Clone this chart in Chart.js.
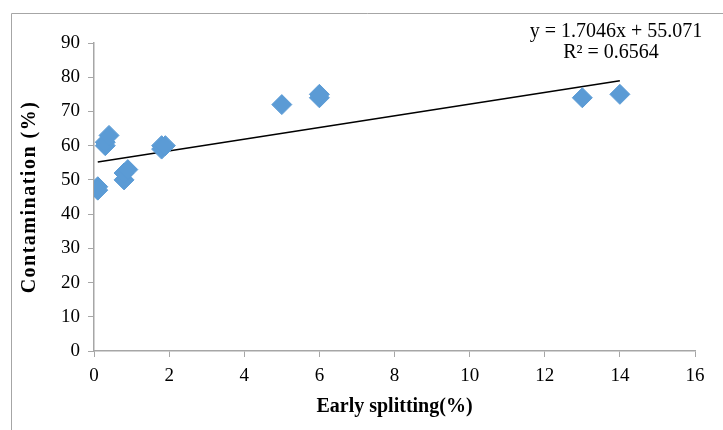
<!DOCTYPE html>
<html>
<head>
<meta charset="utf-8">
<script src="https://cdn.jsdelivr.net/npm/chart.js@4"></script>
<style>
  html, body { margin: 0; padding: 0; background: #fff; }
  #wrap { width: 723px; height: 430px; }
</style>
</head>
<body>
<div id="wrap"><canvas id="scatterChart" width="723" height="430"></canvas></div>
<script>
const splitting = [0.1, 0.1, 0.3, 0.3, 0.4, 0.8, 0.8, 0.9, 1.8, 1.8, 1.9, 5, 6, 6, 13, 14];
const contamination = [48, 47, 60, 61, 63, 50, 52, 53, 59, 60, 60, 72, 74, 75, 74, 75];
const slope = 1.7046;
const intercept = 55.071;
const equationLines = ['y = 1.7046x + 55.071', 'R\u00b2 = 0.6564'];
const yTitle = 'Contamination (%)';

const points = splitting.map((x, i) => ({ x: x, y: contamination[i] }));
const xMin = Math.min(...splitting);
const xMax = Math.max(...splitting);
const trend = [xMin, xMax].map(x => ({ x: x, y: slope * x + intercept }));

const serif = 'Liberation Serif';

// excel-ish outer frame, spaced y title, equation text
const extras = {
  id: 'extras',
  afterDraw(chart) {
    const ctx = chart.ctx;
    const area = chart.chartArea;
    ctx.save();
    ctx.strokeStyle = '#a6a6a6';
    ctx.lineWidth = 1;
    ctx.beginPath();
    ctx.moveTo(11.5, 430);
    ctx.lineTo(11.5, 13.5);
    ctx.lineTo(723, 13.5);
    ctx.stroke();

    ctx.fillStyle = '#000';
    ctx.textAlign = 'center';
    ctx.textBaseline = 'middle';

    ctx.save();
    ctx.translate(30, 197);
    ctx.rotate(-Math.PI / 2);
    ctx.font = 'bold 20px "' + serif + '"';
    ctx.letterSpacing = '1.5px';
    ctx.fillText(yTitle, 0, 0);
    ctx.restore();

    ctx.font = '20px "' + serif + '"';
    ctx.fillText(equationLines[0], 616, 32);
    ctx.fillText(equationLines[1], 611, 53);
    ctx.restore();
  }
};

new Chart(document.getElementById('scatterChart'), {
  type: 'scatter',
  data: {
    datasets: [
      {
        label: 'Contamination',
        data: points,
        pointStyle: 'rectRot',
        pointRadius: 10,
        pointHoverRadius: 10,
        backgroundColor: '#5b9bd5',
        borderColor: '#5b9bd5',
        borderWidth: 1
      },
      {
        type: 'line',
        label: 'Linear',
        data: trend,
        borderColor: '#000',
        borderWidth: 1.5,
        pointRadius: 0,
        fill: false
      }
    ]
  },
  options: {
    responsive: false,
    animation: false,
    layout: { padding: { left: 0, top: 43, right: 28, bottom: 0 } },
    plugins: {
      legend: { display: false },
      tooltip: { enabled: false }
    },
    scales: {
      x: {
        type: 'linear',
        min: 0,
        max: 16,
        ticks: { stepSize: 2, color: '#000', padding: 8, font: { family: serif, size: 19 } },
        grid: { drawOnChartArea: false, tickLength: 6, color: '#a6a6a6' },
        border: { color: '#a6a6a6', width: 1.5 },
        title: {
          display: true,
          text: 'Early splitting(%)',
          color: '#000',
          font: { family: serif, size: 20, weight: 'bold' },
          padding: { top: 0, bottom: 11 }
        },
        afterFit(scale) { scale.height = 79; }
      },
      y: {
        min: 0,
        max: 90,
        ticks: { stepSize: 10, color: '#000', padding: 8, font: { family: serif, size: 19 } },
        grid: { drawOnChartArea: false, tickLength: 6, color: '#a6a6a6' },
        border: { color: '#a6a6a6', width: 1.5 },
        afterFit(scale) { scale.width = 94; }
      }
    }
  },
  plugins: [extras]
});
</script>
</body>
</html>
